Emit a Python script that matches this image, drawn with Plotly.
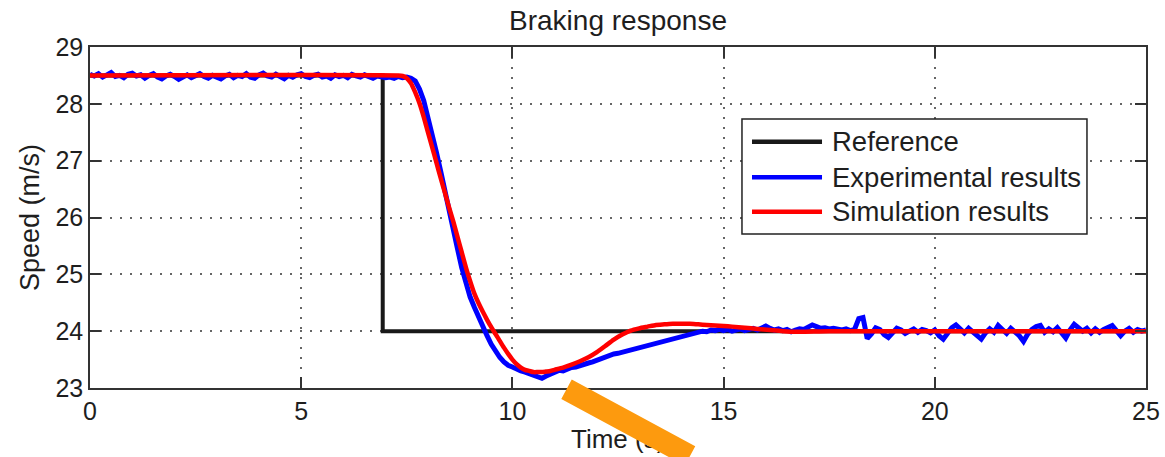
import numpy as np
import plotly.graph_objects as go

# ---------------- data ----------------
ref_t = [0.0, 6.93, 6.93, 25.0]
ref_v = [28.5, 28.5, 24.0, 24.0]

exp_v_0_7 = [
    28.52, 28.49, 28.53, 28.47, 28.51, 28.55, 28.48, 28.50, 28.46, 28.52,
    28.54, 28.49, 28.51, 28.45, 28.50, 28.53, 28.47, 28.44, 28.49, 28.52,
    28.48, 28.43, 28.47, 28.51, 28.46, 28.49, 28.53, 28.48, 28.45, 28.50,
    28.47, 28.44, 28.49, 28.52, 28.46, 28.50, 28.48, 28.53, 28.47, 28.45,
    28.51, 28.54, 28.49, 28.47, 28.52, 28.48, 28.44, 28.50, 28.47, 28.51,
    28.53, 28.48, 28.46, 28.50, 28.52, 28.47, 28.49, 28.45, 28.51, 28.48,
    28.50, 28.46, 28.52, 28.49, 28.47, 28.51, 28.48, 28.45, 28.49, 28.47,
    28.46,
]
exp_v_7_15 = [
    28.47, 28.45, 28.48, 28.46, 28.47, 28.45, 28.40, 28.26, 28.06,
    27.78, 27.46, 27.15, 26.82, 26.50, 26.14, 25.82, 25.45, 25.12, 24.82,
    24.60, 24.42, 24.24, 24.07, 23.92, 23.77, 23.64, 23.54, 23.46, 23.40,
    23.37, 23.33, 23.30, 23.28, 23.25, 23.23, 23.20, 23.17, 23.21, 23.25,
    23.28, 23.31, 23.30, 23.34, 23.36, 23.37, 23.40, 23.42, 23.44, 23.46,
    23.49, 23.52, 23.55, 23.57, 23.60, 23.61, 23.63, 23.65, 23.67, 23.70,
    23.72, 23.74, 23.76, 23.78, 23.80, 23.82, 23.84, 23.86, 23.88, 23.90,
    23.92, 23.94, 23.95, 23.97, 23.99, 24.00, 23.99, 24.02, 24.01, 24.03,
]
exp_v_15_25 = [
    24.01, 24.03, 24.00, 24.02, 24.04, 24.01, 24.03, 24.05, 24.02, 24.06,
    24.09, 24.05, 24.02, 24.04, 24.01, 24.03, 23.99, 24.02, 24.04, 24.03,
    24.07, 24.11, 24.08, 24.05, 24.06, 24.04, 24.05, 24.03, 24.02, 24.04,
    24.01, 24.03, 24.22, 24.24, 23.87, 23.95, 24.06, 24.03, 23.94, 23.89,
    23.97, 24.05, 24.02, 23.96, 24.00, 24.04, 23.98, 24.03, 24.01, 23.97,
    24.02, 23.92, 23.86, 23.96, 24.06, 24.11, 24.04, 23.97, 24.05, 23.99,
    23.93, 23.86, 23.97, 24.04, 23.98, 24.10, 24.03, 23.96, 24.05, 23.99,
    23.92, 23.82, 23.95, 24.03, 24.08, 24.10, 23.98, 24.04, 23.99, 24.06,
    23.96, 23.88, 24.02, 24.12, 24.06, 24.00, 24.05, 23.97, 24.04, 23.98,
    24.03, 24.07, 24.10, 24.01, 23.92, 24.00, 24.05, 23.98, 24.03, 24.00,
    24.02,
]
exp_v = exp_v_0_7 + exp_v_7_15 + exp_v_15_25
exp_t = [round(i * 0.1, 1) for i in range(len(exp_v))]

sim_t = [0.0, 7.3, 7.4, 7.5, 7.6, 7.7, 7.8, 7.9, 8.0, 8.1, 8.2, 8.3, 8.4, 8.5,
         8.6, 8.7, 8.8, 8.9, 9.0, 9.1, 9.2, 9.3, 9.4, 9.5, 9.6, 9.7, 9.8, 9.9,
         10.0, 10.1, 10.2, 10.3, 10.4, 10.5, 10.6, 10.7, 10.8, 10.9, 11.0,
         11.2, 11.4, 11.6, 11.8, 12.0, 12.2, 12.4, 12.6, 12.8, 13.0, 13.2,
         13.4, 13.6, 13.8, 14.0, 14.2, 14.4, 14.6, 14.8, 15.0, 15.2, 15.5,
         15.8, 16.1, 16.4, 16.8, 17.5, 25.0]
sim_v = [28.5, 28.5, 28.49, 28.45, 28.36, 28.20, 28.01, 27.77, 27.50, 27.24,
         26.97, 26.70, 26.44, 26.18, 25.93, 25.66, 25.39, 25.12, 24.88, 24.66,
         24.49, 24.34, 24.20, 24.07, 23.95, 23.83, 23.71, 23.60, 23.50, 23.42,
         23.36, 23.32, 23.30, 23.28, 23.28, 23.28, 23.29, 23.30, 23.32, 23.36,
         23.41, 23.47, 23.54, 23.63, 23.74, 23.85, 23.94, 24.01, 24.05, 24.08,
         24.11, 24.12, 24.13, 24.13, 24.13, 24.12, 24.11, 24.10, 24.09, 24.08,
         24.06, 24.04, 24.02, 24.00, 23.99, 24.0, 24.0]

x_ticks = [0, 5, 10, 15, 20, 25]
y_ticks = [23, 24, 25, 26, 27, 28, 29]

series_names = ["Reference", "Experimental results", "Simulation results"]
series_colors = ["rgb(25,25,25)", "rgb(0,0,255)", "rgb(255,0,0)"]

# ---------------- figure ----------------
FONT = "Liberation Sans, Arial, Helvetica, sans-serif"
TXT = "#1e1e1e"

fig = go.Figure()
fig.add_trace(go.Scatter(x=ref_t, y=ref_v, mode="lines", name=series_names[0],
                         line=dict(color=series_colors[0], width=4), showlegend=False))
fig.add_trace(go.Scatter(x=exp_t, y=exp_v, mode="lines", name=series_names[1],
                         line=dict(color=series_colors[1], width=5), showlegend=False))
fig.add_trace(go.Scatter(x=sim_t, y=sim_v, mode="lines", name=series_names[2],
                         line=dict(color=series_colors[2], width=4.5, shape="spline",
                                   smoothing=0.6), showlegend=False))

axis_common = dict(
    showline=True, linecolor="#333", linewidth=1.5, mirror="ticks",
    ticks="inside", ticklen=11, tickwidth=1.5, tickcolor="#333",
    showgrid=True, gridcolor="#666", gridwidth=1.5, griddash="2px,8px",
    zeroline=False, tickfont=dict(family=FONT, size=25, color=TXT),
)

fig.update_xaxes(range=[0, 25], tickvals=x_ticks, ticktext=[str(v) for v in x_ticks],
                 **axis_common)
fig.update_yaxes(range=[23, 29], tickvals=y_ticks, ticktext=[str(v) for v in y_ticks],
                 title=dict(text="Speed (m/s)", font=dict(family=FONT, size=27, color=TXT),
                            standoff=8),
                 **axis_common)

fig.update_layout(
    width=1165, height=457,
    margin=dict(l=90, r=19, t=47, b=69, autoexpand=False),
    paper_bgcolor="white", plot_bgcolor="white",
    font=dict(family=FONT, color=TXT),
    title=dict(text="Braking response", x=0.5, xref="paper", xanchor="center",
               y=0.956, yref="container", yanchor="middle",
               font=dict(family=FONT, size=28, color=TXT)),
    showlegend=False,
)

# x-axis title (as annotation so the orange arrow can sit on top of it)
fig.add_annotation(xref="paper", yref="paper", x=0.5, y=-0.1496,
                   xanchor="center", yanchor="middle", showarrow=False,
                   text="Time (s)", font=dict(family=FONT, size=26, color=TXT))

# MATLAB-style legend box with long line samples
fig.add_shape(type="rect", xref="paper", yref="paper",
              x0=0.6174, x1=0.9441, y0=0.4516, y1=0.7889,
              fillcolor="white", line=dict(color="#222", width=1.5), layer="above")
legend_y = [0.7223, 0.6179, 0.5170]
for name, color, ly in zip(series_names, series_colors, legend_y):
    fig.add_shape(type="line", xref="paper", yref="paper",
                  x0=0.6269, x1=0.6932, y0=ly, y1=ly,
                  line=dict(color=color, width=4.5), layer="above")
    fig.add_annotation(xref="paper", yref="paper", x=0.7008, y=ly,
                       xanchor="left", yanchor="middle", showarrow=False,
                       text=name, font=dict(family=FONT, size=27.5, color=TXT))

# orange arrow overlay drawn on top of everything
fig.add_annotation(xref="paper", yref="paper", x=0.5682, y=-0.2551,
                   ax=-124, ay=-86, axref="pixel", ayref="pixel",
                   text="", showarrow=True, arrowhead=0, arrowwidth=22,
                   arrowcolor="#FD9A0E", standoff=0, startstandoff=0,
                   font=dict(size=1), borderpad=0)

fig.write_html("out.html")
